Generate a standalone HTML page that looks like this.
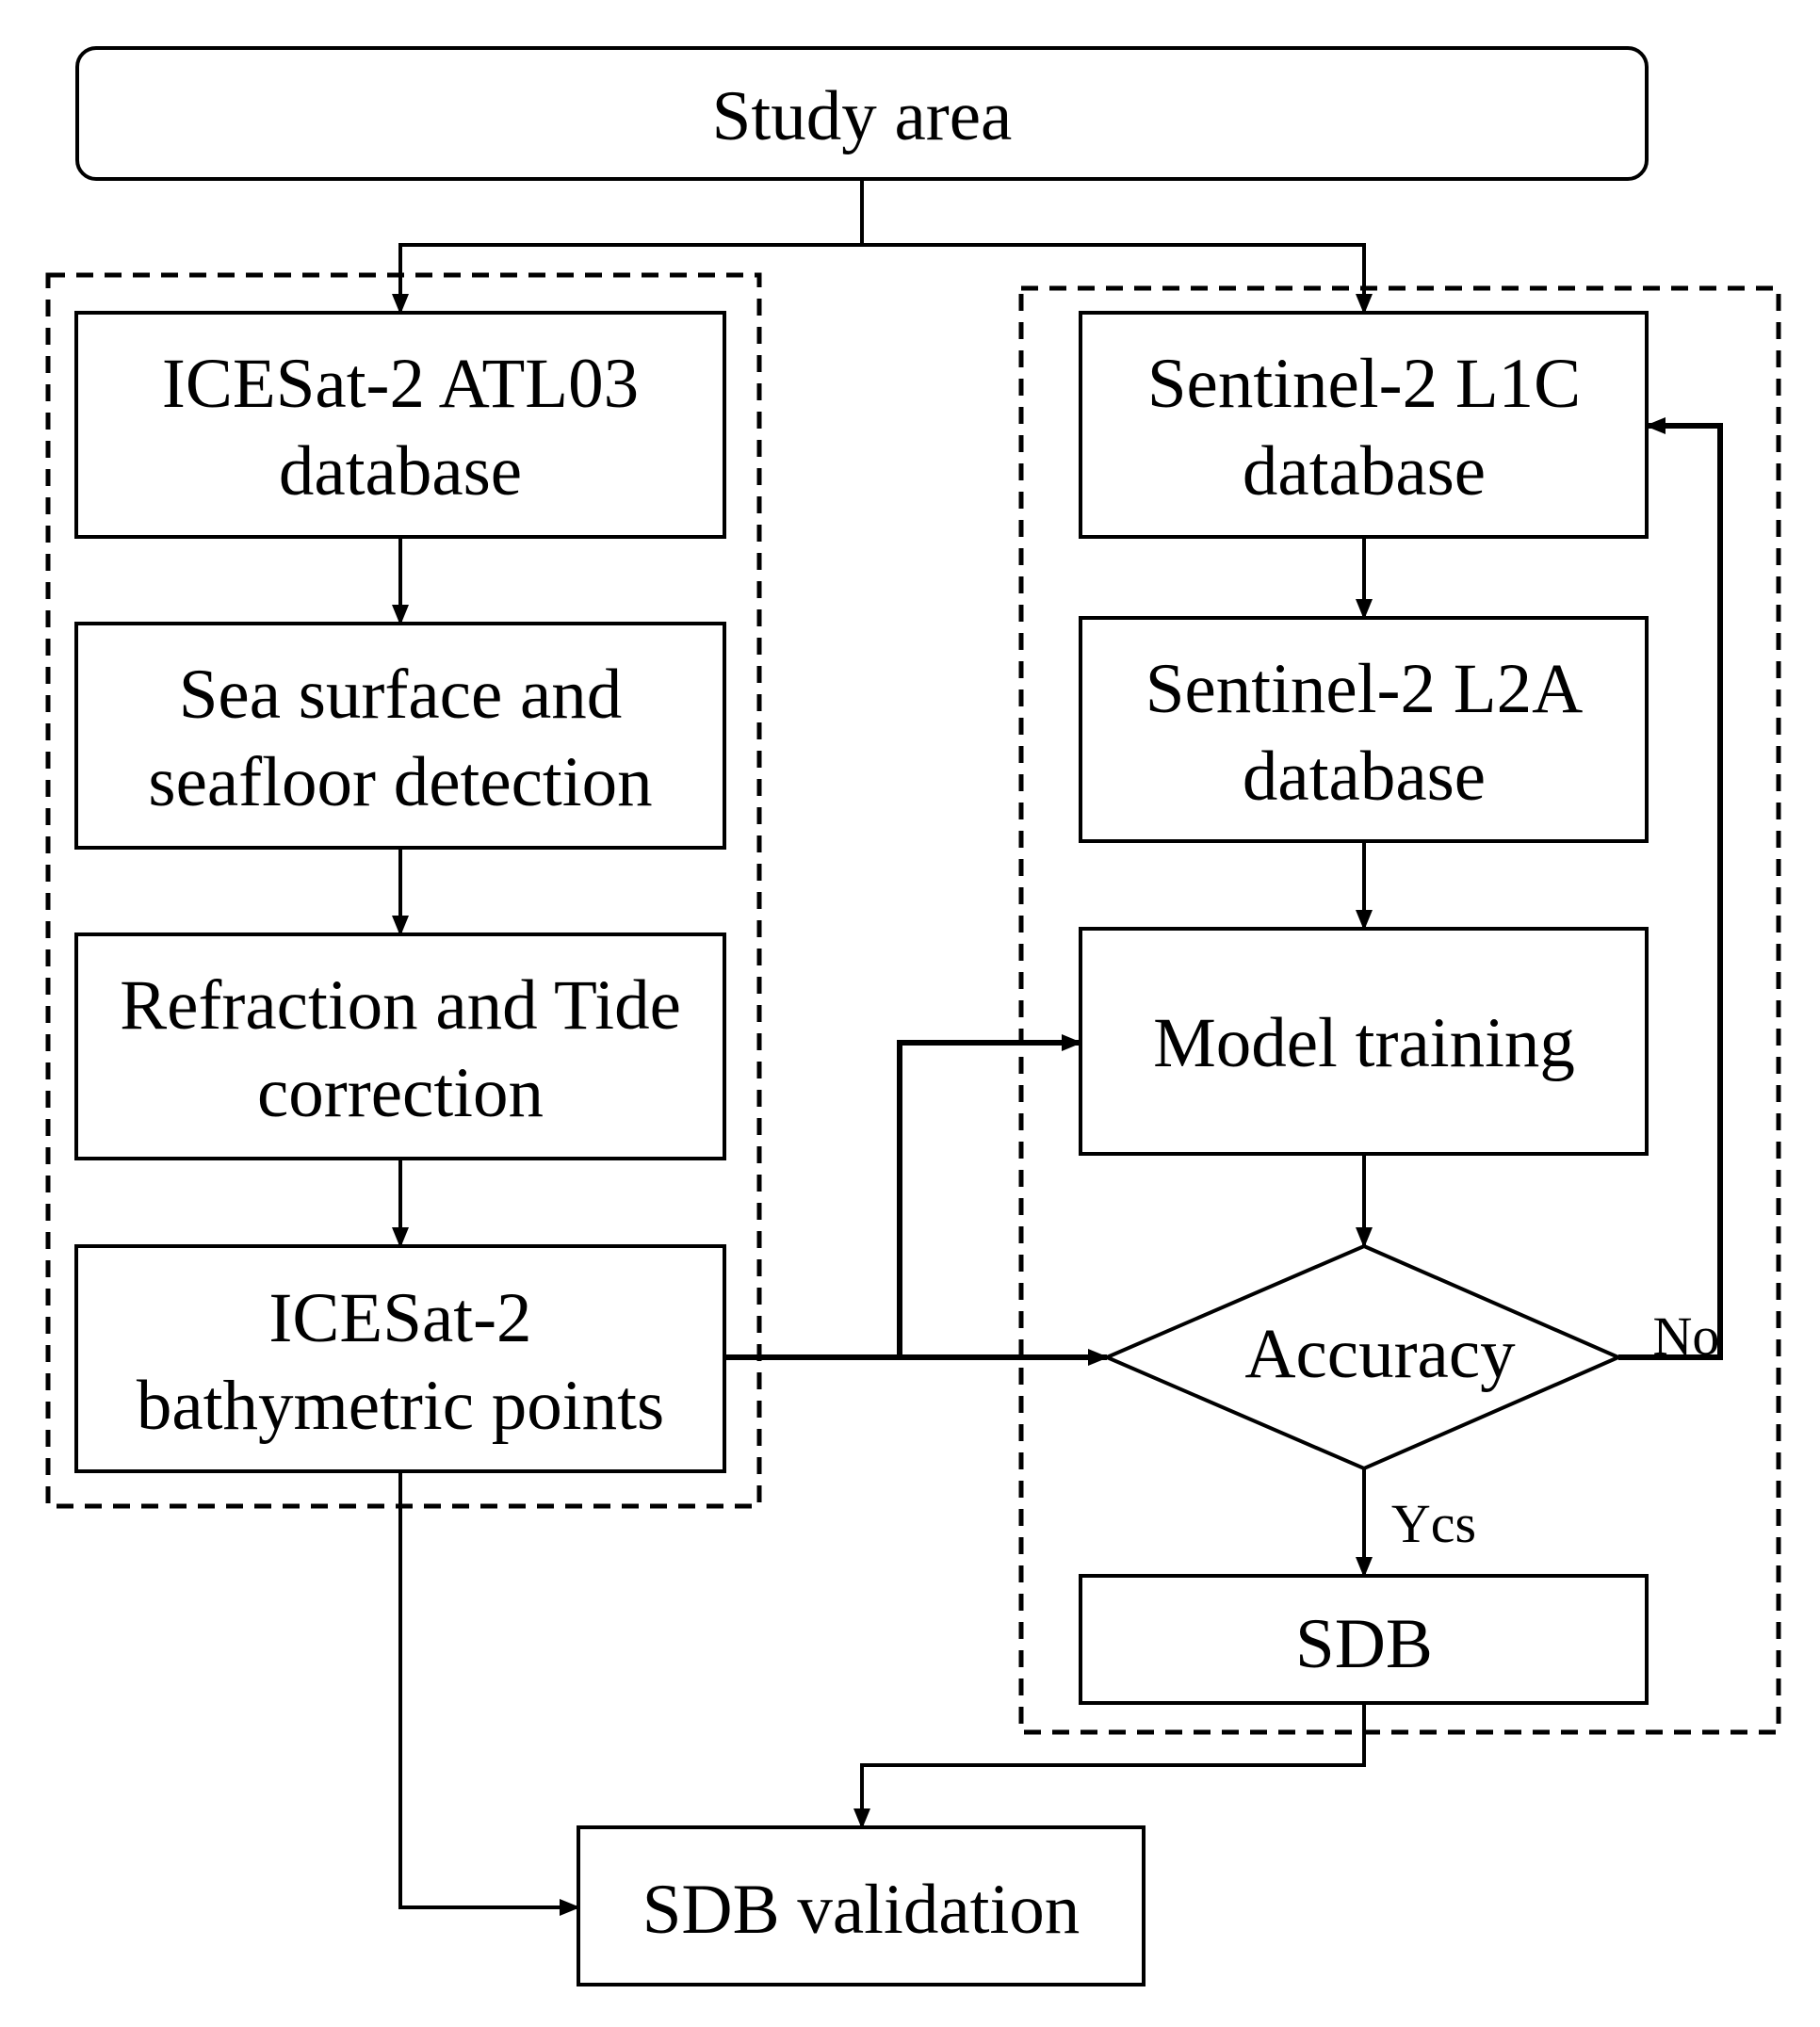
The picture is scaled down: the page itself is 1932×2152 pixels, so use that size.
<!DOCTYPE html>
<html><head><style>
body{margin:0;background:#fff;}
svg text{font-family:"Liberation Serif",serif;font-size:75px;fill:#000;text-anchor:middle;}
</style></head><body>
<svg width="1932" height="2147" viewBox="0 0 1932 2147" xmlns="http://www.w3.org/2000/svg">
<defs>
<marker id="b" markerWidth="22" markerHeight="22" refX="20" refY="11" orient="auto" markerUnits="userSpaceOnUse" viewBox="0 0 22 22">
<path d="M0,2 L22,11 L0,20 z" fill="#000"/></marker>
</defs>
<g fill="none" stroke="#000">
<rect x="82" y="51" width="1666" height="139" rx="20" stroke-width="4"/>
<rect x="51" y="292" width="755" height="1307" stroke-width="5" stroke-dasharray="18,12"/>
<rect x="1084" y="306" width="804" height="1533" stroke-width="5" stroke-dasharray="18,12"/>
<g stroke-width="4">
<rect x="81" y="332" width="688" height="238"/>
<rect x="81" y="662" width="688" height="238"/>
<rect x="81" y="992" width="688" height="238"/>
<rect x="81" y="1323" width="688" height="239"/>
<rect x="1147" y="332" width="601" height="238"/>
<rect x="1147" y="656" width="601" height="237"/>
<rect x="1147" y="986" width="601" height="239"/>
<rect x="1147" y="1673" width="601" height="135"/>
<rect x="614" y="1940" width="600" height="167"/>
<path d="M1448,1323 L1718,1441 L1448,1559 L1175,1441 Z"/>
</g>
<g stroke-width="4" marker-end="url(#b)">
<path d="M915,190 V260 H425 V332"/>
<path d="M915,260 H1448 V332"/>
<path d="M425,570 V662"/>
<path d="M425,900 V992"/>
<path d="M425,1230 V1323"/>
<path d="M1448,570 V656"/>
<path d="M1448,893 V986"/>
<path d="M1448,1225 V1323"/>
<path d="M1448,1559 V1673"/>
<path d="M1448,1808 V1874 H915 V1940"/>
<path d="M425,1562 V2025 H614"/>
</g>
<g stroke-width="6" marker-end="url(#b)">
<path d="M769,1441 H1175"/>
<path d="M955,1441 V1107 H1147"/>
<path d="M1718,1441 H1826 V452 H1748"/>
</g>
</g>
<text x="915" y="148">Study area</text>
<text x="425" y="432">ICESat-2 ATL03</text>
<text x="425" y="525">database</text>
<text x="425" y="762">Sea surface and</text>
<text x="425" y="855">seafloor detection</text>
<text x="425" y="1092">Refraction and Tide</text>
<text x="425" y="1185">correction</text>
<text x="425" y="1424">ICESat-2</text>
<text x="425" y="1517">bathymetric points</text>
<text x="1448" y="432">Sentinel-2 L1C</text>
<text x="1448" y="525">database</text>
<text x="1448" y="756">Sentinel-2 L2A</text>
<text x="1448" y="849">database</text>
<text x="1448" y="1132">Model training</text>
<text x="1465" y="1462">Accuracy</text>
<text x="1448" y="1770">SDB</text>
<text x="914" y="2052">SDB validation</text>
<text x="1790" y="1438" style="font-size:58px">No</text>
<text x="1522" y="1637" style="font-size:58px">Ycs</text>
</svg>
</body></html>
